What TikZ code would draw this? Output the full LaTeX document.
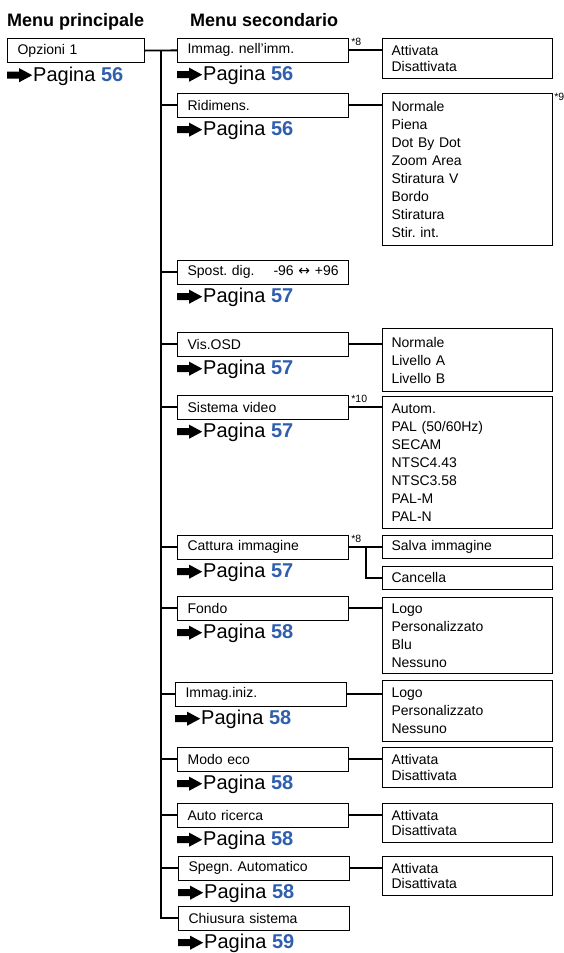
\documentclass[tikz,border=0pt]{standalone}
\usepackage{fontspec}
\setmainfont{Liberation Sans}
\newfontfamily\symf{DejaVu Sans}
\usetikzlibrary{positioning,calc}
\definecolor{pgblue}{HTML}{2F5FAE}
\newcommand{\pgarrow}{\tikz[x=1pt,y=1pt,baseline=0pt]
  \fill[black] (0,2.5) -- (12,2.5) -- (12,-1) -- (25,6) -- (12,13) -- (12,9.5) -- (0,9.5) -- cycle;}
\newcommand{\pagina}[1]{\pgarrow\hspace{1pt}Pagina {\bfseries\color{pgblue}#1}}
\frenchspacing

\begin{document}
\begin{tikzpicture}[x=1pt, y=-1pt,
  head/.style={font=\bfseries\fontsize{18}{20}\selectfont, anchor=base west, inner sep=0pt},
  box/.style={draw, line width=1.2pt, anchor=north west, align=left, inner ysep=0pt},
  menu/.style={box, inner xsep=10pt, text width=117pt, minimum height=24pt, font=\fontsize{14}{16}\selectfont},
  sub/.style={box, inner xsep=10pt, text width=151pt, minimum height=23.5pt, font=\fontsize{14}{16}\selectfont},
  opt/.style={box, inner xsep=9pt, text width=152pt, font=\fontsize{14}{18}\selectfont},
  onoff/.style={opt, font=\fontsize{14}{15.5}\selectfont},
  pg/.style={font=\fontsize{20}{22}\selectfont, inner sep=0pt},
  note/.style={font=\fontsize{10.5}{11}\selectfont, anchor=north west, inner sep=0pt},
  line/.style={draw, line width=1.8pt}]
\useasboundingbox (0,0) rectangle (563,953);

\node[head] (hmain) at (7,26) {Menu principale};
\node[head] (hsub) at (190,26) {Menu secondario};

\node[menu] (opz) at (7,38) {Opzioni 1};
\node[pg, below=18pt of opz.south west, anchor=base west] (p0) {\pagina{56}};

\node[sub] (pip) at (177,38) {Immag. nell’imm.};
\node[sub] (ridim) at (177,93) {Ridimens.};
\node[sub] (spost) at (177,260) {Spost. dig.\hfill -96 {\symf ↔} +96};
\node[sub] (osd) at (177,332) {Vis.OSD};
\node[sub] (sysvid) at (177,395) {Sistema video};
\node[sub] (cattura) at (177,535) {Cattura immagine};
\node[sub] (fondo) at (177,596) {Fondo};
\node[sub] (iniz) at (175,682) {Immag.iniz.};
\node[sub] (eco) at (177,747) {Modo eco};
\node[sub] (ricerca) at (177,803) {Auto ricerca};
\node[sub] (spegn) at (178,856) {Spegn. Automatico};
\node[sub] (chiusura) at (178,906) {Chiusura sistema};

\foreach \b/\n in {pip/56,ridim/56,spost/57,osd/57,sysvid/57,cattura/57,fondo/58,iniz/58,eco/58,ricerca/58,spegn/58,chiusura/59}
  \node[pg, below=18pt of \b.south west, anchor=base west] (p\b) {\pagina{\n}};

\node[onoff, minimum height=40pt] (pipopt) at (382,38) {Attivata\\Disattivata};
\node[opt, minimum height=152pt] (ridimopt) at (382,93) {Normale\\Piena\\Dot By Dot\\Zoom Area\\Stiratura V\\Bordo\\Stiratura\\Stir. int.};
\node[opt, minimum height=63pt] (osdopt) at (382,328) {Normale\\Livello A\\Livello B};
\node[opt, minimum height=132pt] (sysopt) at (382,396) {Autom.\\PAL (50/60Hz)\\SECAM\\NTSC4.43\\NTSC3.58\\PAL-M\\PAL-N};
\node[opt, minimum height=23pt] (salva) at (382,535) {Salva immagine};
\node[opt, minimum height=22.5pt] (cancella) at (382,566) {Cancella};
\node[opt, minimum height=76pt] (fondoopt) at (382,597) {Logo\\Personalizzato\\Blu\\Nessuno};
\node[opt, minimum height=61pt] (inizopt) at (382,680) {Logo\\Personalizzato\\Nessuno};
\node[onoff, minimum height=40pt] (ecoopt) at (382,747) {Attivata\\Disattivata};
\node[onoff, minimum height=39pt] (ricopt) at (382,803) {Attivata\\Disattivata};
\node[onoff, minimum height=39pt] (spegnopt) at (382,856) {Attivata\\Disattivata};

\node[note] (n8a) at ([xshift=2pt]pip.north east) {*8};
\node[note] (n9) at ([xshift=1pt]ridimopt.north east) {*9};
\node[note] (n10) at ([xshift=2pt]sysvid.north east) {*10};
\node[note] (n8b) at ([xshift=2pt]cattura.north east) {*8};

\coordinate (trunk) at (161,50);
\draw[line] (opz.east) -- (pip.west);
\draw[line] (trunk) |- (chiusura.west);
\foreach \b in {ridim,spost,osd,sysvid,cattura,fondo,iniz,eco,ricerca,spegn}
  \draw[line] (trunk |- \b.west) -- (\b.west);

\foreach \b/\o in {pip/pipopt,ridim/ridimopt,osd/osdopt,sysvid/sysopt,fondo/fondoopt,iniz/inizopt,eco/ecoopt,ricerca/ricopt,spegn/spegnopt}
  \draw[line] (\b.east) -- (\b.east -| \o.west);

\draw[line] (cattura.east) -- (cattura.east -| salva.west);
\coordinate (split) at ($(cattura.east)!0.5!(cattura.east -| salva.west)$);
\draw[line] (split) |- (cancella.west);
\end{tikzpicture}
\end{document}
